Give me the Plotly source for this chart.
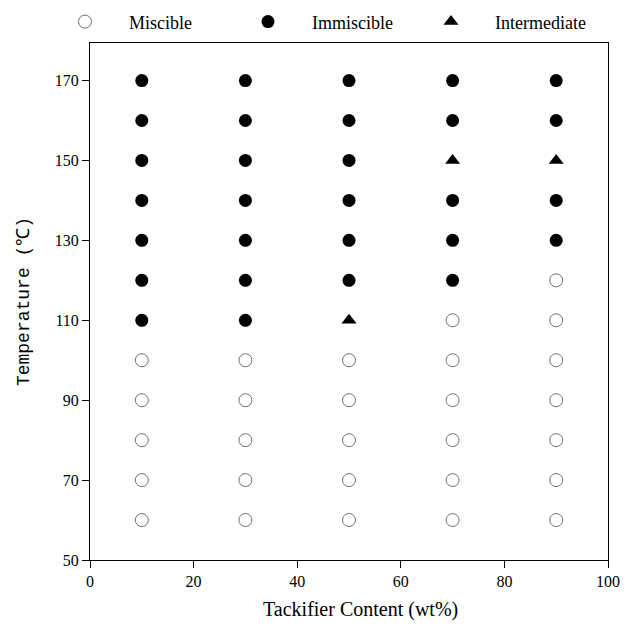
import plotly.graph_objects as go

# Data
miscible_x = [10]*5 + [30]*5 + [50]*5 + [70]*6 + [90]*7
miscible_y = [60, 70, 80, 90, 100]*3 + [60, 70, 80, 90, 100, 110] + [60, 70, 80, 90, 100, 110, 120]

immiscible_x = [10]*7 + [30]*7 + [50]*6 + [70]*5 + [90]*4
immiscible_y = ([110, 120, 130, 140, 150, 160, 170]*2 + [120, 130, 140, 150, 160, 170]
                + [120, 130, 140, 160, 170] + [130, 140, 160, 170])

intermediate_x = [50, 70, 90]
intermediate_y = [110, 150, 150]

x_ticks = [0, 20, 40, 60, 80, 100]
y_ticks = [50, 70, 90, 110, 130, 150, 170]

serif = "Liberation Serif"

fig = go.Figure()
fig.add_trace(go.Scatter(
    x=miscible_x, y=miscible_y, mode="markers", name="Miscible",
    marker=dict(symbol="circle-open", size=13, color="#6e6e6e", line=dict(width=1, color="#6e6e6e")),
))
fig.add_trace(go.Scatter(
    x=immiscible_x, y=immiscible_y, mode="markers", name="Immiscible",
    marker=dict(symbol="circle", size=13, color="black"),
))
fig.add_trace(go.Scatter(
    x=intermediate_x, y=intermediate_y, mode="markers", name="Intermediate",
    marker=dict(symbol="triangle-up", size=13, color="black"),
))

fig.update_layout(
    width=636, height=626,
    margin=dict(l=90, r=28, t=43, b=66, autoexpand=False),
    paper_bgcolor="white", plot_bgcolor="white",
    font=dict(family=serif, size=16, color="black"),
    showlegend=True,
    legend=dict(
        orientation="h", x=-0.0946, xref="paper", y=1.005, yref="paper",
        xanchor="left", yanchor="bottom",
        itemwidth=78, entrywidth=90, entrywidthmode="pixels",
        font=dict(family=serif, size=18, color="black"),
        bgcolor="rgba(0,0,0,0)",
    ),
    xaxis=dict(
        range=[0, 100], tickvals=x_ticks, ticks="outside", ticklen=7, tickwidth=1,
        tickcolor="black", showline=True, linecolor="black", linewidth=1, mirror=True,
        showgrid=False, zeroline=False,
        tickfont=dict(family=serif, size=16),
    ),
    yaxis=dict(
        range=[50, 179.4], tickvals=y_ticks, ticks="outside", ticklen=7, tickwidth=1,
        tickcolor="black", showline=True, linecolor="black", linewidth=1, mirror=True,
        showgrid=False, zeroline=False,
        title=dict(text="Temperature (℃)", font=dict(family="Liberation Mono", size=18), standoff=20),
        tickfont=dict(family=serif, size=16),
    ),
    annotations=[dict(
        text="Tackifier Content (wt%)", xref="paper", yref="paper",
        x=0.523, y=-0.095, xanchor="center", yanchor="middle", showarrow=False,
        font=dict(family=serif, size=20, color="black"),
    )],
)

fig.write_html("out.html")
